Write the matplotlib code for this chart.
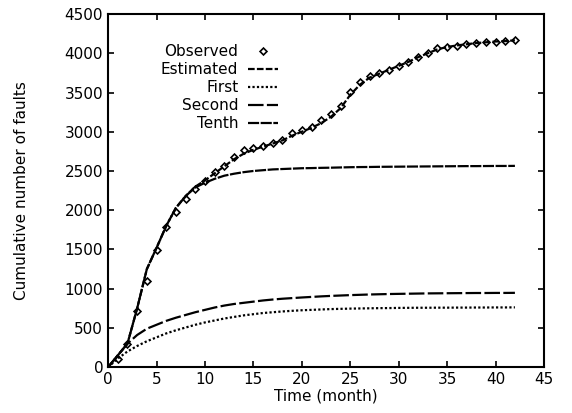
import matplotlib.pyplot as plt
import numpy as np

plt.rcParams['font.family'] = ['DejaVu Sans']

# observed cumulative faults per month
obs_months = list(range(1, 43))
observed = [100, 300, 714, 1097, 1492, 1786, 1977, 2143, 2270, 2372,
            2487, 2564, 2679, 2768, 2793, 2819, 2857, 2895, 2985, 3023,
            3061, 3150, 3227, 3329, 3508, 3635, 3712, 3750, 3788, 3840,
            3890, 3954, 4005, 4069, 4082, 4094, 4120, 4133, 4145, 4145,
            4158, 4171]

# model curves, month 0..42
months = list(range(0, 43))
estimated = [0, 150, 300, 750, 1250, 1520, 1800, 2030, 2180, 2300, 2380,
             2470, 2560, 2650, 2720, 2770, 2810, 2850, 2890, 2950, 3000,
             3050, 3110, 3190, 3300, 3470, 3600, 3690, 3740, 3790, 3840,
             3890, 3950, 4000, 4050, 4080, 4100, 4115, 4130, 4140, 4150,
             4155, 4165]
first = [0, 110, 200, 270, 330, 380, 430, 470, 505, 540, 570,
         595, 620, 640, 660, 675, 690, 700, 710, 718, 725,
         730, 735, 740, 743, 746, 748, 750, 752, 753, 755,
         756, 757, 757, 758, 758, 759, 759, 760, 760, 761,
         761, 762]
second = [0, 150, 300, 410, 490, 540, 590, 630, 665, 700, 730,
          760, 785, 805, 820, 835, 850, 862, 872, 880, 888,
          895, 902, 908, 913, 918, 922, 926, 929, 932, 934,
          936, 938, 940, 941, 942, 943, 944, 945, 945, 946,
          946, 947]
tenth = [0, 150, 300, 750, 1250, 1520, 1800, 2030, 2180, 2290, 2350,
         2400, 2440, 2465, 2485, 2500, 2510, 2520, 2525, 2530, 2535,
         2537, 2540, 2542, 2545, 2548, 2550, 2551, 2553, 2554, 2555,
         2556, 2557, 2558, 2559, 2560, 2561, 2562, 2562, 2563, 2564,
         2564, 2565]

fig = plt.figure(figsize=(5.72, 4.13), dpi=100)
ax = fig.add_axes([0.189, 0.111, 0.762, 0.855])

ax.plot(obs_months, observed, linestyle='none', marker='D', markersize=3.5,
        markerfacecolor='white', markeredgecolor='black', markeredgewidth=1.2,
        label='Observed', zorder=2)
ax.plot(months, estimated, color='black', lw=1.6, dashes=(3, 1),
        label='Estimated', zorder=3)
ax.plot(months, first, color='black', lw=1.6, dashes=(1, 1),
        label='First', zorder=3)
ax.plot(months, second, color='black', lw=1.6, dashes=(7, 1.5),
        label='Second', zorder=3)
ax.plot(months, tenth, color='black', lw=1.6, dashes=(5, 0.7),
        label='Tenth', zorder=3)

ax.set_xlim(0, 45)
ax.set_ylim(0, 4500)
ax.set_xticks(np.arange(0, 46, 5))
ax.set_yticks(np.arange(0, 4501, 500))
ax.tick_params(direction='in', top=True, right=True, length=4, width=1.2,
               labelsize=11)
for s in ax.spines.values():
    s.set_linewidth(1.5)

ax.set_xlabel('Time (month)', fontsize=11, labelpad=1)
ax.set_ylabel('Cumulative number of faults', fontsize=11, labelpad=26)

leg = ax.legend(loc='upper right', bbox_to_anchor=(0.39, 0.915), frameon=False,
                markerfirst=False, fontsize=11, handlelength=2.0,
                labelspacing=0.2, handletextpad=0.6, borderaxespad=0,
                borderpad=0)

fig.savefig('out.png', dpi=100)
